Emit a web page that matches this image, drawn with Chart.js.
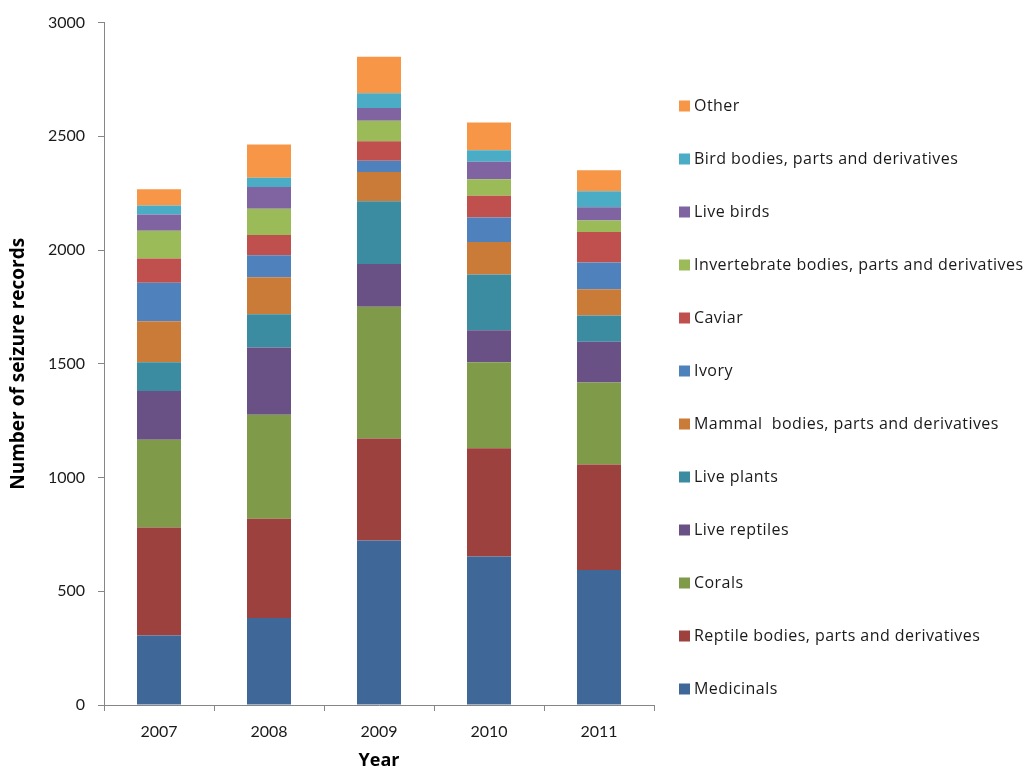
<!DOCTYPE html>
<html>
<head>
<meta charset="utf-8">
<script src="https://cdn.jsdelivr.net/npm/chart.js@4/dist/chart.umd.min.js"></script>
<style>
  html, body { margin: 0; padding: 0; background: #fff; }
  #wrap { width: 1033px; height: 775px; position: relative; }
</style>
</head>
<body>
<div id="wrap"><canvas id="seizureChart"></canvas></div>
<script>
// --- data ---
const years = ['2007', '2008', '2009', '2010', '2011'];

const medicinals    = [305, 382, 723, 653, 594];
const reptileBodies = [475, 437, 449, 476, 463];
const corals        = [386, 457, 579, 378, 361];
const liveReptiles  = [214, 296, 188, 141, 179];
const livePlants    = [127, 146, 276, 245, 115];
const mammalBodies  = [180, 162, 128, 142, 116];
const ivory         = [169, 97, 50, 108, 117];
const caviar        = [107, 89, 85, 96, 134];
const invertBodies  = [122, 116, 90, 72, 51];
const liveBirds     = [71, 95, 57, 77, 58];
const birdBodies    = [40, 41, 64, 51, 71];
const other         = [71, 146, 161, 122, 92];

const yMin = 0, yMax = 3000, yStep = 500;

// bottom-to-top stacking order
const series = [
    { label: 'Medicinals', data: medicinals, color: '#3F6899' },
    { label: 'Reptile bodies, parts and derivatives', data: reptileBodies, color: '#9C413E' },
    { label: 'Corals', data: corals, color: '#7F9A48' },
    { label: 'Live reptiles', data: liveReptiles, color: '#695185' },
    { label: 'Live plants', data: livePlants, color: '#3C8CA1' },
    { label: 'Mammal  bodies, parts and derivatives', data: mammalBodies, color: '#CB7B38' },
    { label: 'Ivory', data: ivory, color: '#4F81BD' },
    { label: 'Caviar', data: caviar, color: '#C0504D' },
    { label: 'Invertebrate bodies, parts and derivatives', data: invertBodies, color: '#9BBB59' },
    { label: 'Live birds', data: liveBirds, color: '#8064A2' },
    { label: 'Bird bodies, parts and derivatives', data: birdBodies, color: '#4BACC6' },
    { label: 'Other', data: other, color: '#F79646' }
];

const AXIS_GRAY = '#868686';
const TEXT = '#1a1a1a';
const FONT = 'Lato, "DejaVu Sans", sans-serif';
const WIDE = '"Open Sans", "DejaVu Sans", sans-serif';

// legend drawn at the right, top entry = last dataset
const sideLegend = {
    id: 'sideLegend',
    afterDraw(chart) {
        const { ctx, chartArea } = chart;
        const items = chart.data.datasets.slice().reverse();
        const x = chartArea.right + 25;
        const y0 = 106, gap = 53;
        ctx.save();
        ctx.font = '16px ' + WIDE;
        ctx.letterSpacing = '0.45px';
        ctx.textBaseline = 'middle';
        ctx.textAlign = 'left';
        items.forEach((ds, i) => {
            const y = y0 + i * gap;
            ctx.fillStyle = ds.backgroundColor;
            ctx.fillRect(x, y - 5.5, 11, 11);
            ctx.fillStyle = TEXT;
            ctx.fillText(ds.label, x + 15, y);
        });
        ctx.restore();
    }
};

new Chart(document.getElementById('seizureChart'), {
    type: 'bar',
    data: {
        labels: years,
        datasets: series.map(s => ({
            label: s.label,
            data: s.data,
            backgroundColor: s.color,
            borderWidth: 0,
            barPercentage: 0.4,
            categoryPercentage: 1.0
        }))
    },
    options: {
        responsive: true,
        maintainAspectRatio: false,
        animation: false,
        layout: { padding: { top: 19, right: 379, bottom: 0, left: 0 } },
        plugins: {
            legend: { display: false },
            tooltip: { enabled: false }
        },
        scales: {
            x: {
                stacked: true,
                afterFit: (scale) => { scale.height = 70; },
                grid: { drawOnChartArea: false, drawTicks: true, tickLength: 6, color: AXIS_GRAY },
                border: { color: AXIS_GRAY, width: 1 },
                ticks: { color: TEXT, padding: 11, font: { family: FONT, size: 16 } },
                title: {
                    display: true, text: 'Year', color: '#000',
                    font: { family: WIDE, size: 18, weight: 'bold' },
                    padding: { top: 0, bottom: 3 }
                }
            },
            y: {
                stacked: true,
                min: yMin, max: yMax,
                afterFit: (scale) => { scale.width = 104; },
                grid: { drawOnChartArea: false, drawTicks: true, tickLength: 6, color: AXIS_GRAY },
                border: { color: AXIS_GRAY, width: 1 },
                ticks: {
                    stepSize: yStep, color: TEXT, padding: 13,
                    font: { family: FONT, size: 16 },
                    callback: (v) => String(v)
                },
                title: {
                    display: true, text: 'Number of seizure records', color: '#000',
                    font: { family: WIDE, size: 19, weight: 'bold' },
                    padding: { top: 7, bottom: 0 }
                }
            }
        }
    },
    plugins: [sideLegend]
});
</script>
</body>
</html>
